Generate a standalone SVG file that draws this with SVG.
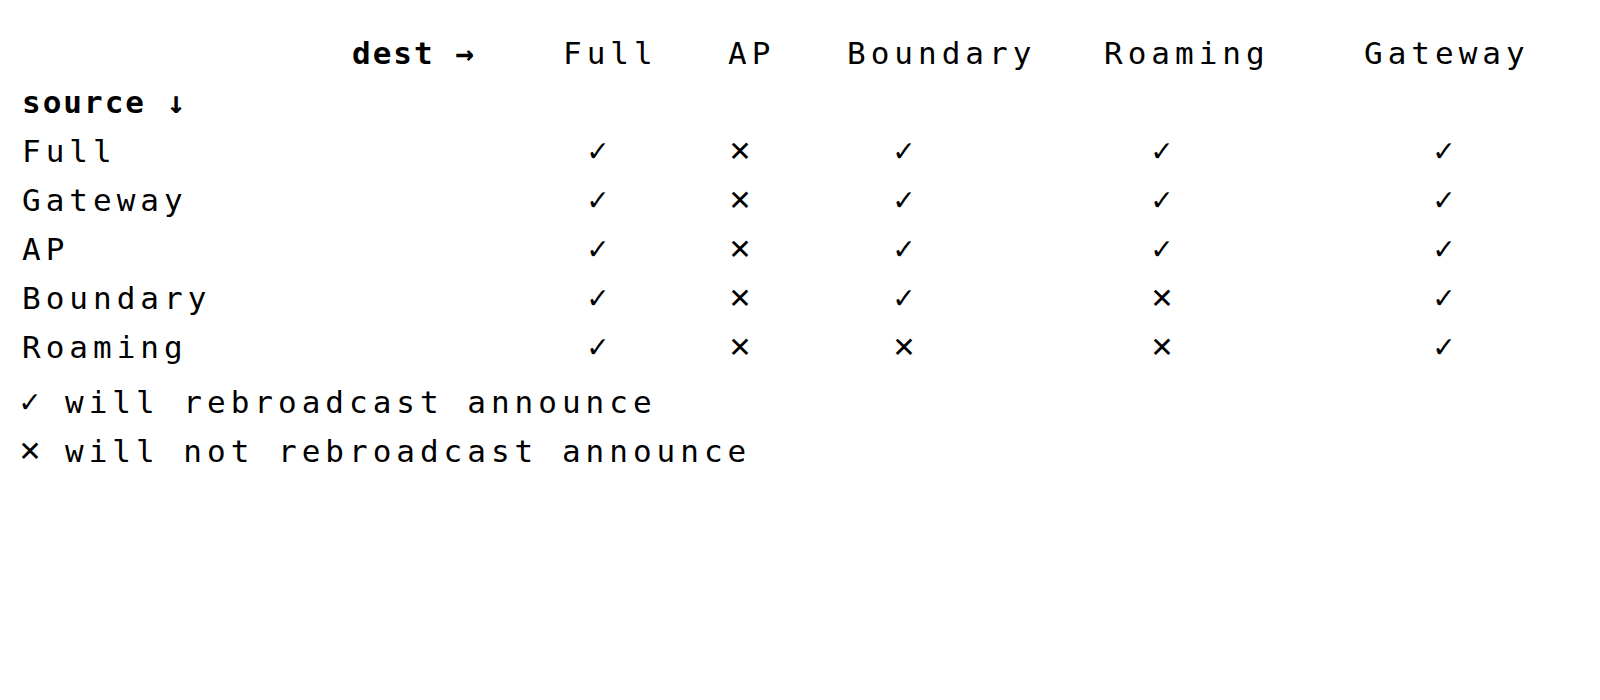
<svg xmlns="http://www.w3.org/2000/svg" width="1600" height="700" viewBox="0 0 1600 700">
<style>
text{font-family:"DejaVu Sans Mono","Liberation Mono",monospace;font-size:31px;letter-spacing:5px;fill:#000}
.b{font-weight:bold;letter-spacing:2px}
.m{font-size:28px;text-anchor:middle;letter-spacing:0;font-weight:bold;font-family:"DejaVu Sans",sans-serif}
</style>
<rect width="1600" height="700" fill="#fff"/>
<g id="header">
<text class="b" x="352" y="64">dest →</text>
<text x="563" y="64">Full</text>
<text x="728" y="64">AP</text>
<text x="847" y="64">Boundary</text>
<text x="1104" y="64">Roaming</text>
<text x="1364" y="64">Gateway</text>
<text class="b" x="22" y="113">source ↓</text>
</g>
<g id="rows">
<text x="22" y="162">Full</text>
<text x="22" y="211">Gateway</text>
<text x="22" y="260">AP</text>
<text x="22" y="309">Boundary</text>
<text x="22" y="358">Roaming</text>
</g>
<g id="cells">
<text class="m" x="598" y="161">✓</text><text class="m" x="740" y="161">✕</text><text class="m" x="904" y="161">✓</text><text class="m" x="1162" y="161">✓</text><text class="m" x="1444" y="161">✓</text>
<text class="m" x="598" y="210">✓</text><text class="m" x="740" y="210">✕</text><text class="m" x="904" y="210">✓</text><text class="m" x="1162" y="210">✓</text><text class="m" x="1444" y="210">✓</text>
<text class="m" x="598" y="259">✓</text><text class="m" x="740" y="259">✕</text><text class="m" x="904" y="259">✓</text><text class="m" x="1162" y="259">✓</text><text class="m" x="1444" y="259">✓</text>
<text class="m" x="598" y="308">✓</text><text class="m" x="740" y="308">✕</text><text class="m" x="904" y="308">✓</text><text class="m" x="1162" y="308">✕</text><text class="m" x="1444" y="308">✓</text>
<text class="m" x="598" y="357">✓</text><text class="m" x="740" y="357">✕</text><text class="m" x="904" y="357">✕</text><text class="m" x="1162" y="357">✕</text><text class="m" x="1444" y="357">✓</text>
</g>
<g id="legend">
<text class="m" x="30" y="412">✓</text><text x="65" y="413">will rebroadcast announce</text>
<text class="m" x="30" y="461">✕</text><text x="65" y="462">will not rebroadcast announce</text>
</g>
</svg>
